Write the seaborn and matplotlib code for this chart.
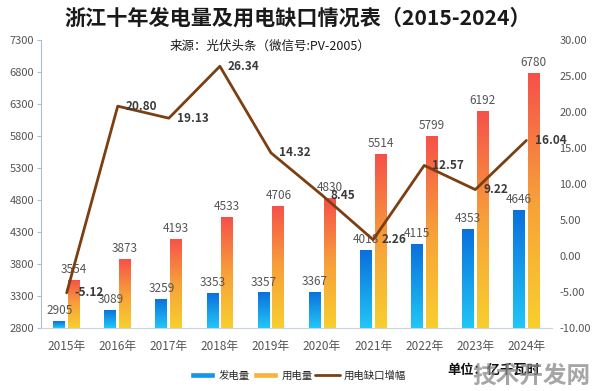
import numpy as np
import pandas as pd
import matplotlib
matplotlib.use("Agg")
import matplotlib.pyplot as plt
import seaborn as sns
from matplotlib.colors import LinearSegmentedColormap
from matplotlib.lines import Line2D
from matplotlib.patches import Patch

# 데이터
years = ['2015年', '2016年', '2017年', '2018年', '2019年', '2020年', '2021年', '2022年', '2023年', '2024年']
gen = [2905, 3089, 3259, 3353, 3357, 3367, 4018, 4115, 4353, 4646]
use = [3554, 3873, 4193, 4533, 4706, 4830, 5514, 5799, 6192, 6780]
gap_pct = [-5.12, 20.80, 19.13, 26.34, 14.32, 8.45, 2.26, 12.57, 9.22, 16.04]

sns.set_style('white')
plt.rcParams['font.family'] = ['Noto Sans CJK SC', 'DejaVu Sans']
plt.rcParams['axes.unicode_minus'] = False

df = pd.DataFrame({
    'year': years * 2,
    'value': gen + use,
    'kind': ['发电量'] * len(years) + ['用电量'] * len(years),
})

fig = plt.figure(figsize=(5.96, 3.91), dpi=100)
ax = fig.add_axes([0.069, 0.161, 0.857, 0.737])

sns.barplot(data=df, x='year', y='value', hue='kind', ax=ax,
            width=0.58, gap=0.2, legend=False,
            palette=['#1a9bea', '#f99a3a'])

ax.set_ylim(2800, 7300)
ax.set_xlim(-0.5, 9.5)
ax.set_yticks(range(2800, 7301, 500))

# 그라데이션 채우기
blue_cmap = LinearSegmentedColormap.from_list('b', ['#22c6f6', '#0a6fdd'])
orange_cmap = LinearSegmentedColormap.from_list('o', ['#f8cf2e', '#f7a03a', '#f6504a'])
grad = np.linspace(0, 1, 256).reshape(-1, 1)
for i, bar in enumerate(ax.patches):
    x0, w = bar.get_x(), bar.get_width()
    h = bar.get_height()
    if h <= 0:
        continue
    cmap = blue_cmap if i < len(years) else orange_cmap
    bar.set_facecolor('none')
    bar.set_edgecolor('none')
    img = ax.imshow(grad, cmap=cmap, origin='lower', aspect='auto',
                    extent=[x0, x0 + w, 2800, h], zorder=2)
    img.set_clip_path(bar)
    ax.text(x0 + w / 2, h + 60, f'{int(h)}', ha='center', va='bottom',
            fontsize=8.5, color='#555555')
ax.set_xlim(-0.5, 9.5)
ax.set_ylim(2800, 7300)

for s in ['top', 'right']:
    ax.spines[s].set_visible(False)
ax.spines['left'].set_color('#a9bfd6')
ax.spines['bottom'].set_color('#c9d5e2')
ax.tick_params(axis='y', left=True, length=3, color='#a9bfd6', labelsize=8, labelcolor='#555555', pad=2)
ax.tick_params(axis='x', bottom=False, labelsize=8.5, labelcolor='#555555', pad=5)
ax.set_xlabel('')
ax.set_ylabel('')

# 보조축: 용전 결구 증폭
ax2 = ax.twinx()
line_df = pd.DataFrame({'pos': np.arange(len(years)), 'pct': gap_pct})
sns.lineplot(data=line_df, x='pos', y='pct', ax=ax2, color='#7b3f12', linewidth=2)
ax2.set_ylim(-10, 30)
ax2.set_yticks(range(-10, 31, 5))
ax2.set_yticklabels([f'{v:.2f}' for v in range(-10, 31, 5)])
ax2.set_xlim(-0.5, 9.5)
ax2.tick_params(axis='y', right=False, labelsize=8, labelcolor='#555555', pad=2)
ax2.set_ylabel('')
ax2.set_xlabel('')
for s in ['top', 'right', 'left', 'bottom']:
    ax2.spines[s].set_visible(False)
for i, v in enumerate(gap_pct):
    ax2.text(i + 0.16, v, f'{v:.2f}', ha='left', va='center',
             fontsize=8.5, fontweight='bold', color='#3a3a3a')

# 제목
fig.text(0.5, 0.953, '浙江十年发电量及用电缺口情况表（2015-2024）', ha='center', va='center',
         fontsize=15.2, fontweight='bold', color='#1a1a1a')
fig.text(0.453, 0.882, '来源：光伏头条（微信号:PV-2005）', ha='center', va='center',
         fontsize=9, color='#1a1a1a')

# 범례
handles = [Patch(facecolor='#1196ea', label='发电量'),
           Patch(facecolor='#f9b33a', label='用电量'),
           Line2D([0], [0], color='#7b3f12', linewidth=2, label='用电缺口增幅')]
fig.legend(handles=handles, loc='center', bbox_to_anchor=(0.5, 0.04), ncol=3,
           frameon=False, fontsize=7.5, handlelength=2.4, handleheight=0.5,
           columnspacing=0.3, handletextpad=0.35)

fig.text(0.75, 0.055, '单位：亿千瓦时', ha='left', va='center',
         fontsize=9.5, fontweight='bold', color='#111111')
fig.text(0.99, 0.04, '技术开发网', ha='right', va='center',
         fontsize=17, fontweight='bold', color='#888888', alpha=0.75)

fig.savefig('out.png', dpi=100)
